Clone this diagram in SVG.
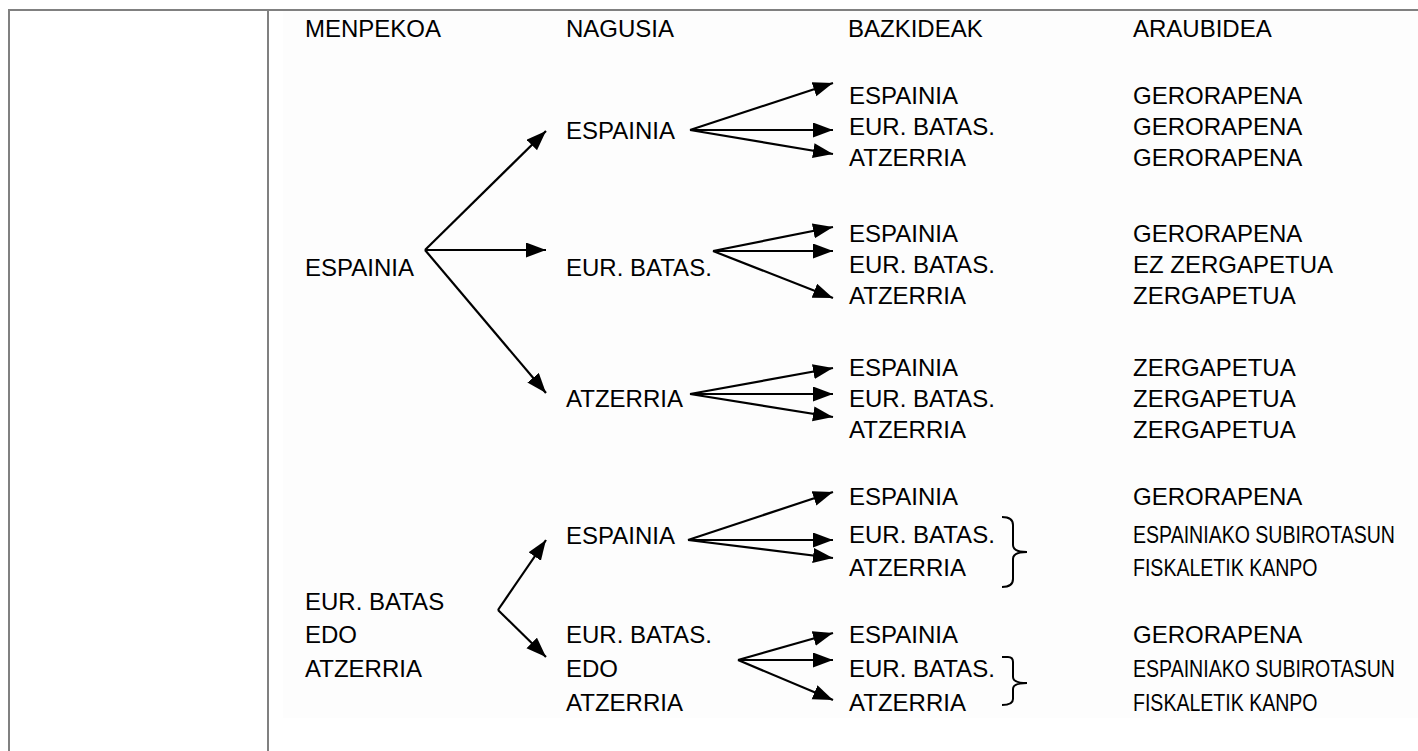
<svg xmlns="http://www.w3.org/2000/svg" width="1418" height="751" viewBox="0 0 1418 751">
<style>
text{font-family:"Liberation Sans",Arial,sans-serif;font-size:24px;fill:#000}
text.s{font-size:23px}
.frame{stroke:#808080;stroke-width:2;fill:none}
.c line{stroke:#000;stroke-width:2.2;marker-end:url(#ah)}
.br{stroke:#000;stroke-width:2;fill:none}
</style>
<defs>
<marker id="ah" markerUnits="userSpaceOnUse" markerWidth="22" markerHeight="16" refX="20" refY="7.5" orient="auto">
<path d="M0,0 L20,7.5 L0,15 z" fill="#000"/>
</marker>
</defs>
<rect width="1418" height="751" fill="#fff"/>
<rect x="283" y="11" width="1135" height="707" fill="#fdfdfd"/>
<g id="frame">
<line class="frame" x1="8" y1="10" x2="1418" y2="10"/>
<line class="frame" x1="9" y1="10" x2="9" y2="751"/>
<line class="frame" x1="268" y1="10" x2="268" y2="751"/>
</g>
<g id="headers">
<text x="305" y="37">MENPEKOA</text>
<text x="566" y="37">NAGUSIA</text>
<text x="848" y="37">BAZKIDEAK</text>
<text x="1133" y="37">ARAUBIDEA</text>
</g>
<g id="m-espainia"><text x="305" y="276">ESPAINIA</text></g>
<g id="m-eur"><text x="305" y="610">EUR. BATAS</text><text x="305" y="643">EDO</text><text x="305" y="677">ATZERRIA</text></g>
<g id="n1"><text x="566" y="139">ESPAINIA</text></g>
<g id="n2"><text x="566" y="276">EUR. BATAS.</text></g>
<g id="n3"><text x="566" y="407">ATZERRIA</text></g>
<g id="n4"><text x="566" y="544">ESPAINIA</text></g>
<g id="n5"><text x="566" y="643">EUR. BATAS.</text><text x="566" y="677">EDO</text><text x="566" y="711">ATZERRIA</text></g>
<g id="b1"><text x="849" y="104">ESPAINIA</text><text x="849" y="135">EUR. BATAS.</text><text x="849" y="166">ATZERRIA</text></g>
<g id="b2"><text x="849" y="242">ESPAINIA</text><text x="849" y="273">EUR. BATAS.</text><text x="849" y="304">ATZERRIA</text></g>
<g id="b3"><text x="849" y="376">ESPAINIA</text><text x="849" y="407">EUR. BATAS.</text><text x="849" y="438">ATZERRIA</text></g>
<g id="b4"><text x="849" y="505">ESPAINIA</text><text x="849" y="543">EUR. BATAS.</text><text x="849" y="576">ATZERRIA</text></g>
<g id="b5"><text x="849" y="643">ESPAINIA</text><text x="849" y="677">EUR. BATAS.</text><text x="849" y="711">ATZERRIA</text></g>
<g id="a1"><text x="1133" y="104">GERORAPENA</text><text x="1133" y="135">GERORAPENA</text><text x="1133" y="166">GERORAPENA</text></g>
<g id="a2"><text x="1133" y="242">GERORAPENA</text><text x="1133" y="273">EZ ZERGAPETUA</text><text x="1133" y="304">ZERGAPETUA</text></g>
<g id="a3"><text x="1133" y="376">ZERGAPETUA</text><text x="1133" y="407">ZERGAPETUA</text><text x="1133" y="438">ZERGAPETUA</text></g>
<g id="a4"><text x="1133" y="505">GERORAPENA</text><text class="s" transform="translate(1133,543) scale(0.85,1)">ESPAINIAKO SUBIROTASUN</text><text class="s" transform="translate(1133,576) scale(0.85,1)">FISKALETIK KANPO</text></g>
<g id="a5"><text x="1133" y="643">GERORAPENA</text><text class="s" transform="translate(1133,677) scale(0.85,1)">ESPAINIAKO SUBIROTASUN</text><text class="s" transform="translate(1133,711) scale(0.85,1)">FISKALETIK KANPO</text></g>
<g id="connectors" class="c">
<line x1="425" y1="250" x2="546" y2="131"/>
<line x1="425" y1="250" x2="546" y2="250"/>
<line x1="425" y1="250" x2="546" y2="393"/>
<line x1="690" y1="130" x2="833" y2="83"/>
<line x1="690" y1="130" x2="833" y2="130"/>
<line x1="690" y1="130" x2="833" y2="154"/>
<line x1="713" y1="251" x2="833" y2="227"/>
<line x1="713" y1="251" x2="833" y2="251"/>
<line x1="713" y1="251" x2="833" y2="298"/>
<line x1="690" y1="394" x2="833" y2="368"/>
<line x1="690" y1="394" x2="833" y2="394"/>
<line x1="690" y1="394" x2="833" y2="417"/>
<line x1="498" y1="610" x2="546" y2="540"/>
<line x1="498" y1="610" x2="546" y2="657"/>
<line x1="688" y1="540" x2="833" y2="492"/>
<line x1="688" y1="540" x2="833" y2="540"/>
<line x1="688" y1="540" x2="833" y2="558"/>
<line x1="738" y1="660" x2="833" y2="633"/>
<line x1="738" y1="660" x2="833" y2="660"/>
<line x1="738" y1="660" x2="833" y2="700"/>
</g>
<g id="braces">
<path class="br" d="M1002,517 Q1013,517 1013,525 L1013,545 Q1013,552 1027,552 Q1013,552 1013,559 L1013,579 Q1013,587 1002,587"/>
<path class="br" d="M1002,657 L1008,657 Q1013,657 1013,662 L1013,677 Q1013,683 1027,683 Q1013,683 1013,689 L1013,699 Q1013,705 1002,705"/>
</g>
</svg>
